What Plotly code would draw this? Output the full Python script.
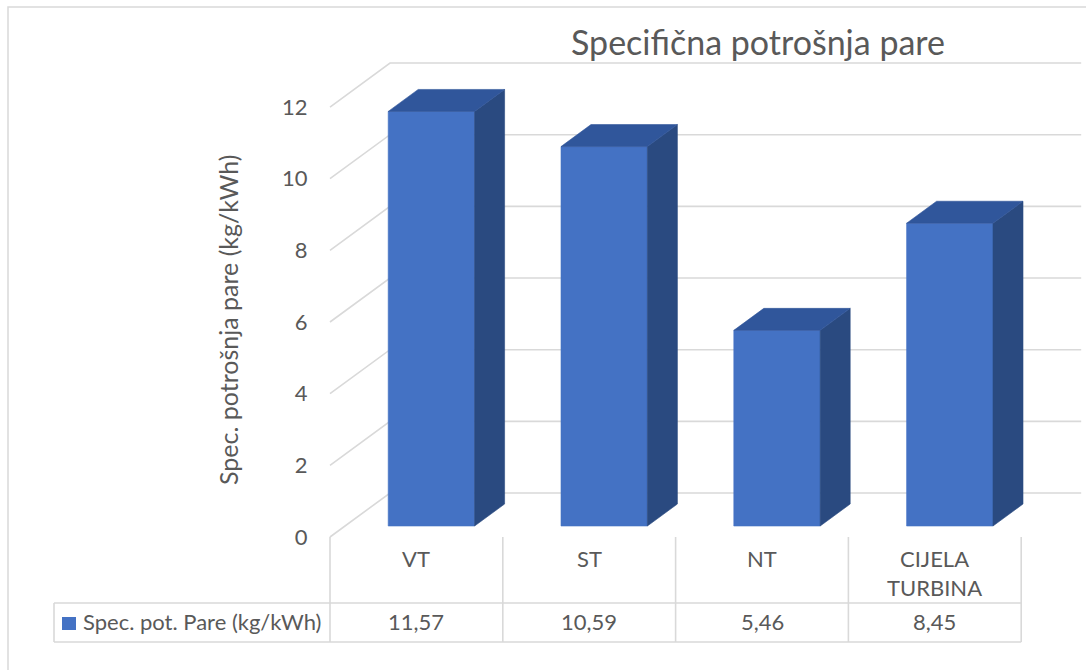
import plotly.graph_objects as go

# ---------------- data ----------------
categories = ["VT", "ST", "NT", "CIJELA<br>TURBINA"]
values = [11.57, 10.59, 5.46, 8.45]
series_name = "Spec. pot. Pare (kg/kWh)"
title_text = "Specifična potrošnja pare"
y_title = "Spec. potrošnja pare (kg/kWh)"
y_ticks = [0, 2, 4, 6, 8, 10, 12]

# ---------------- geometry / style ----------------
W, H = 1086, 670
PX_X0, PX_PER_CAT = 416.4, 172.8      # category 0 centre, column width (px)
PX_Y0, PX_PER_UNIT = 537.0, 35.83     # value 0 at front plane, px per unit
X_RANGE = [(0 - PX_X0) / PX_PER_CAT, (W - PX_X0) / PX_PER_CAT]
Y_RANGE = [(PX_Y0 - H) / PX_PER_UNIT, PX_Y0 / PX_PER_UNIT]
DX = 60 / PX_PER_CAT                  # full depth shift in category units
DY = 44 / PX_PER_UNIT                 # full depth shift in value units
HW = 0.25                             # bar half width
D0, D1 = 0.25, 0.75                   # bar depth extent

FONT = "Lato"
TXT = "#595959"
GRID = "#D9D9D9"
C_FRONT, C_TOP, C_SIDE = "#4472C4", "#30569B", "#2A4A80"
FS_TICK, FS_TABLE, FS_YT, FS_TITLE = 22, 22, 25, 34


def xd(px):
    return (px - PX_X0) / PX_PER_CAT


def yd(py):
    return (PX_Y0 - py) / PX_PER_UNIT


def proj(x, v, d):
    return x + DX * d, v + DY * d


def poly(pts, color):
    xs = [p[0] for p in pts] + [pts[0][0]]
    ys = [p[1] for p in pts] + [pts[0][1]]
    return go.Scatter(x=xs, y=ys, mode="lines", fill="toself", fillcolor=color,
                      line=dict(color=color, width=0.6), hoverinfo="skip",
                      showlegend=False)


fig = go.Figure()
n = len(categories)

# gridlines (back wall + left wall)
gx, gy = [], []
for v in y_ticks:
    a = proj(-0.5, v, 0); b = proj(-0.5, v, 1); c = proj(n - 0.5, v, 1)
    gx += [a[0], b[0], c[0], None]
    gy += [a[1], b[1], c[1], None]
fig.add_trace(go.Scatter(x=gx, y=gy, mode="lines", line=dict(color=GRID, width=1.6),
                         hoverinfo="skip", showlegend=False))

# 3D bars
for i, v in enumerate(values):
    front = [proj(i - HW, 0, D0), proj(i + HW, 0, D0), proj(i + HW, v, D0), proj(i - HW, v, D0)]
    side = [proj(i + HW, 0, D0), proj(i + HW, 0, D1), proj(i + HW, v, D1), proj(i + HW, v, D0)]
    top = [proj(i - HW, v, D0), proj(i + HW, v, D0), proj(i + HW, v, D1), proj(i - HW, v, D1)]
    fig.add_trace(poly(front, C_FRONT))
    fig.add_trace(poly(side, C_SIDE))
    fig.add_trace(poly(top, C_TOP))

# data table lines
tx, ty = [], []
row_top, row_mid, row_bot = yd(537), yd(603), yd(642)
for k in range(n + 1):
    tx += [k - 0.5, k - 0.5, None]
    ty += [row_top, row_bot, None]
for yy in (row_mid, row_bot):
    tx += [xd(54), n - 0.5, None]
    ty += [yy, yy, None]
tx += [xd(54), xd(54), None]
ty += [row_mid, row_bot, None]
fig.add_trace(go.Scatter(x=tx, y=ty, mode="lines", line=dict(color=GRID, width=1.6),
                         hoverinfo="skip", showlegend=False))

annotations = []
for i, (c, v) in enumerate(zip(categories, values)):
    annotations.append(dict(x=i, y=yd(543), xref="x", yref="y", text=c, showarrow=False,
                            yanchor="top", xanchor="center",
                            font=dict(family=FONT, size=FS_TABLE, color=TXT)))
    annotations.append(dict(x=i, y=yd(621), xref="x", yref="y",
                            text=f"{v:.2f}".replace(".", ","), showarrow=False,
                            yanchor="middle", xanchor="center",
                            font=dict(family=FONT, size=FS_TABLE, color=TXT)))
annotations.append(dict(x=xd(81), y=yd(621), xref="x", yref="y", text=series_name,
                        showarrow=False, xanchor="left", yanchor="middle",
                        font=dict(family=FONT, size=FS_TABLE, color=TXT)))
annotations.append(dict(x=758 / W, y=1 - 42 / H, xref="paper", yref="paper", text=title_text,
                        showarrow=False, xanchor="center", yanchor="middle",
                        font=dict(family=FONT, size=FS_TITLE, color=TXT)))
annotations.append(dict(x=228 / W, y=1 - 320 / H, xref="paper", yref="paper", text=y_title,
                        showarrow=False, textangle=-90, xanchor="center", yanchor="middle",
                        font=dict(family=FONT, size=FS_YT, color=TXT)))

shapes = [
    dict(type="rect", xref="x", yref="y", x0=xd(62), x1=xd(76), y0=yd(617), y1=yd(630),
         fillcolor=C_FRONT, line=dict(width=0)),
    dict(type="rect", xref="paper", yref="paper", x0=8 / W, x1=1.02, y0=-0.02, y1=1 - 7 / H,
         line=dict(color=GRID, width=1.5), fillcolor="rgba(0,0,0,0)", layer="below"),
]

fig.update_layout(
    width=W, height=H, autosize=False,
    margin=dict(l=0, r=0, t=0, b=0, pad=0),
    paper_bgcolor="white", plot_bgcolor="white",
    showlegend=False,
    xaxis=dict(range=X_RANGE, visible=False, domain=[0, 1], fixedrange=True),
    yaxis=dict(range=Y_RANGE, domain=[0, 1], anchor="free", position=330 / W,
               tickvals=y_ticks, ticktext=[str(t) for t in y_ticks],
               ticks="outside", ticklen=18, tickcolor="rgba(0,0,0,0)",
               showgrid=False, zeroline=False, showline=False,
               tickfont=dict(family=FONT, size=FS_TICK, color=TXT), fixedrange=True),
    annotations=annotations,
    shapes=shapes,
)

fig.write_html("out.html", config={"displayModeBar": False},
               post_script="document.body.style.margin='0';document.body.style.overflow='hidden';")
